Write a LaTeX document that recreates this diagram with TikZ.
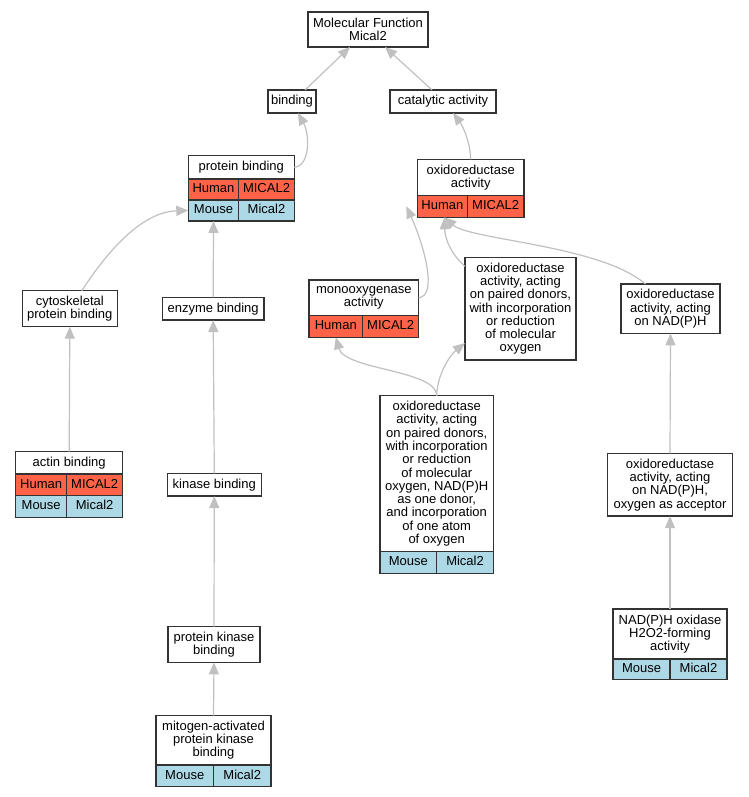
\documentclass[tikz,border=0pt]{standalone}
\usepackage{fontspec}
\setmainfont{Liberation Sans}
\usetikzlibrary{arrows.meta}
\definecolor{humanred}{HTML}{FF6347}
\definecolor{mouseblue}{HTML}{ADD8E6}
\definecolor{edgegray}{HTML}{C0C0C0}
\begin{document}
\begin{tikzpicture}[x=1pt, y=-1pt,
  term/.style = {draw=black!80, line width=1.4pt, fill=white, align=center,
                 inner sep=0pt, outer sep=0pt, font=\fontsize{13}{13.3}\selectfont},
  human/.style = {term, fill=humanred, anchor=north west, text height=9.4pt, text depth=2.6pt},
  mouse/.style = {term, fill=mouseblue, anchor=north west, text height=9.4pt, text depth=2.6pt},
  isa/.style = {draw=edgegray, line width=1.2pt, -{Triangle[length=12pt,width=10pt]}}]
\useasboundingbox (0,0) rectangle (748,797);

\node[term, minimum width=120pt, minimum height=35pt] (mf) at (368,29.5) {Molecular Function\\Mical2};
\node[term, minimum width=48pt, minimum height=23pt] (bind) at (292,101.5) {binding};
\node[term, minimum width=106pt, minimum height=23pt] (cat) at (443,101.5) {catalytic activity};

\node[term, minimum width=106pt, minimum height=23.3pt] (pb) at (241.3,167.3) {protein binding};
\node[human, minimum width=50.4pt, minimum height=21pt] (pbh1) at (pb.south west) {Human};
\node[human, minimum width=55.6pt, minimum height=21pt] (pbh2) at (pbh1.north east) {MICAL2};
\node[mouse, minimum width=50.4pt, minimum height=21pt] (pbm1) at (pbh1.south west) {Mouse};
\node[mouse, minimum width=55.6pt, minimum height=21pt] (pbm2) at (pbm1.north east) {Mical2};

\node[term, minimum width=106.7pt, minimum height=36pt] (ox) at (470.7,177.3) {oxidoreductase\\activity};
\node[human, minimum width=50pt, minimum height=22pt] (oxh1) at (ox.south west) {Human};
\node[human, minimum width=56.7pt, minimum height=22pt] (oxh2) at (oxh1.north east) {MICAL2};

\node[term, minimum width=95pt, minimum height=36pt] (cyto) at (69.8,308.7) {cytoskeletal\\protein binding};
\node[term, minimum width=101.7pt, minimum height=22.7pt] (enz) at (213.2,308.7) {enzyme binding};

\node[term, minimum width=109.7pt, minimum height=35.7pt] (mono) at (363.8,297.8) {monooxygenase\\activity};
\node[human, minimum width=53.7pt, minimum height=21.6pt] (monoh1) at (mono.south west) {Human};
\node[human, minimum width=56pt, minimum height=21.6pt] (monoh2) at (monoh1.north east) {MICAL2};

\node[term, minimum width=111pt, minimum height=102.7pt] (pd) at (520.5,308.7) {oxidoreductase\\activity, acting\\on paired donors,\\with incorporation\\or reduction\\of molecular\\oxygen};
\node[term, minimum width=99pt, minimum height=49.3pt] (nad) at (670.5,308.7) {oxidoreductase\\activity, acting\\on NAD(P)H};

\node[term, minimum width=107pt, minimum height=22.3pt] (actin) at (69.2,462.8) {actin binding};
\node[human, minimum width=51pt, minimum height=21.7pt] (actinh1) at (actin.south west) {Human};
\node[human, minimum width=56pt, minimum height=21.7pt] (actinh2) at (actinh1.north east) {MICAL2};
\node[mouse, minimum width=51pt, minimum height=21.7pt] (actinm1) at (actinh1.south west) {Mouse};
\node[mouse, minimum width=56pt, minimum height=21.7pt] (actinm2) at (actinm1.north east) {Mical2};

\node[term, minimum width=94pt, minimum height=22.7pt] (kin) at (214.3,484.7) {kinase binding};

\node[term, minimum width=113.3pt, minimum height=156pt] (big) at (436.7,473.7) {oxidoreductase\\activity, acting\\on paired donors,\\with incorporation\\or reduction\\of molecular\\oxygen, NAD(P)H\\as one donor,\\and incorporation\\of one atom\\of oxygen};
\node[mouse, minimum width=56.7pt, minimum height=21.6pt] (bigm1) at (big.south west) {Mouse};
\node[mouse, minimum width=56.6pt, minimum height=21.6pt] (bigm2) at (bigm1.north east) {Mical2};

\node[term, minimum width=124.7pt, minimum height=62.7pt] (acc) at (670,484.7) {oxidoreductase\\activity, acting\\on NAD(P)H,\\oxygen as acceptor};

\node[term, minimum width=92pt, minimum height=35.6pt] (pkb) at (214,644.5) {protein kinase\\binding};

\node[term, minimum width=115pt, minimum height=49.3pt] (mapk) at (213.5,740.3) {mitogen-activated\\protein kinase\\binding};
\node[mouse, minimum width=57.5pt, minimum height=21.7pt] (mapkm1) at (mapk.south west) {Mouse};
\node[mouse, minimum width=57.5pt, minimum height=21.7pt] (mapkm2) at (mapkm1.north east) {Mical2};

\node[term, minimum width=114pt, minimum height=50pt] (nox) at (670,634) {NAD(P)H oxidase\\H2O2-forming\\activity};
\node[mouse, minimum width=57pt, minimum height=20.3pt] (noxm1) at (nox.south west) {Mouse};
\node[mouse, minimum width=57pt, minimum height=20.3pt] (noxm2) at (noxm1.north east) {Mical2};

\draw[isa] ([xshift=13pt]bind.north) -- ([xshift=-18pt]mf.south);
\draw[isa] ([xshift=-11pt]cat.north) -- ([xshift=17pt]mf.south);
\draw[isa] (pb.east) .. controls (310,166) and (310,135) .. ([xshift=6pt]bind.south);
\draw[isa] (ox.north) .. controls (470,140) and (462,125) .. ([xshift=10pt]cat.south);
\draw[isa] ([xshift=12pt]cyto.north) .. controls (105,255) and (140,212) .. (pbm1.west);
\draw[isa] (enz.north) -- (pbm1.south);
\draw[isa] (actin.north) -- (cyto.south);
\draw[isa] (kin.north) -- (enz.south);
\draw[isa] (pkb.north) -- (kin.south);
\draw[isa] (mapk.north) -- (pkb.south);
\draw[isa] (mono.east) .. controls (438,296) and (424,245) .. ([xshift=-11pt]oxh1.west);
\draw[isa] ([yshift=-9pt]pd.north west) .. controls (452,255) and (445,240) .. ([xshift=2pt]oxh1.south);
\draw[isa] ([xshift=-25pt]nad.north) .. controls (600,245) and (470,240) .. ([xshift=2pt]oxh1.south);
\draw[isa] (big.north) .. controls (437,370) and (345,370) .. (monoh1.south);
\draw[isa] (big.north) .. controls (437,375) and (450,355) .. ([yshift=17pt]pd.south west);
\draw[isa] (acc.north) -- (nad.south);
\draw[isa] (nox.north) -- (acc.south);
\end{tikzpicture}
\end{document}
